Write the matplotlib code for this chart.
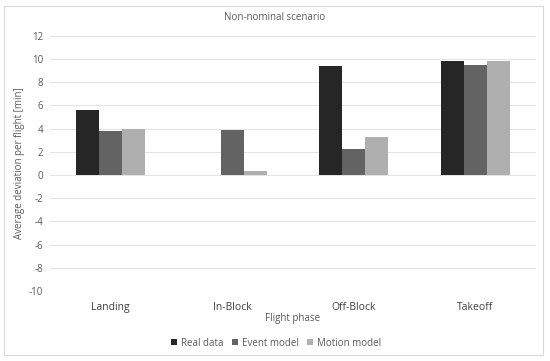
import matplotlib
matplotlib.use("Agg")
import matplotlib.pyplot as plt
import numpy as np
from matplotlib.patches import FancyBboxPatch

categories = ["Landing", "In-Block", "Off-Block", "Takeoff"]
series_names = ["Real data", "Event model", "Motion model"]
real_data = [5.6, 0.0, 9.37, 9.86]
event_model = [3.8, 3.85, 2.2, 9.45]
motion_model = [4.0, 0.38, 3.25, 9.83]
y_ticks = [-10, -8, -6, -4, -2, 0, 2, 4, 6, 8, 10, 12]

colors = ["#262626", "#636363", "#afafaf"]
plt.rcParams['font.family'] = ['Open Sans', 'DejaVu Sans']

fig = plt.figure(figsize=(5.5, 3.61), dpi=100)
W, H = 550, 361
# outer frame
frame = FancyBboxPatch((4 / W, 6 / H), 539 / W, 349 / H, boxstyle="square,pad=0",
                       transform=fig.transFigure, fill=False, edgecolor="#d9d9d9", linewidth=0.8)
fig.add_artist(frame)

ax = fig.add_axes([50 / W, 1 - 291 / H, 486 / W, 255.3 / H])
x = np.arange(len(categories))
bw = 0.19
for i, (vals, name) in enumerate(zip([real_data, event_model, motion_model], series_names)):
    ax.bar(x + (i - 1) * bw, vals, bw, color=colors[i], label=name, zorder=3)

ax.set_xlim(-0.5, 3.5)
ax.set_ylim(-10, 12)
ax.set_yticks(y_ticks)
ax.set_yticklabels([str(t) for t in y_ticks], color="#595959", fontsize=7)
ax.set_xticks(x)
ax.set_xticklabels(categories, color="#404040", fontsize=7.5)
ax.tick_params(length=0, pad=5)
ax.tick_params(axis='x', pad=8)
ax.grid(axis='y', color="#e3e3e3", linewidth=0.8, zorder=0)
for s in ax.spines.values():
    s.set_visible(False)

fig.text(275 / W, 1 - 18 / H, "Non-nominal scenario", ha="center", va="center", fontsize=7, color="#595959")
fig.text(293 / W, 1 - 318 / H, "Flight phase", ha="center", va="center", fontsize=7, color="#595959")
fig.text(20 / W, 1 - 163 / H, "Average deviation per flight [min]", ha="center", va="center",
         rotation=90, fontsize=7, color="#595959")

leg = fig.legend(loc="center", bbox_to_anchor=(276 / W, 1 - 343 / H), ncol=3, frameon=False,
                 fontsize=7, handlelength=0.6, handleheight=0.6, handletextpad=0.4, columnspacing=0.9)
for t in leg.get_texts():
    t.set_color("#595959")

fig.savefig("out.png", dpi=100)
